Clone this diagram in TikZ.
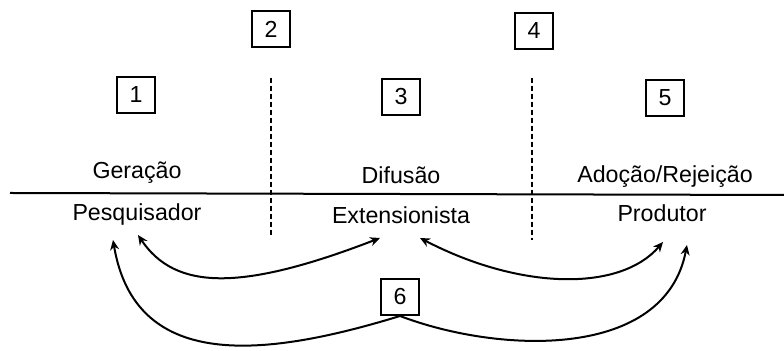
\documentclass[tikz,border=0pt]{standalone}
\usepackage{fontspec}
\setmainfont{Liberation Sans}
\usetikzlibrary{positioning}
\usetikzlibrary{arrows.meta}

\begin{document}
\begin{tikzpicture}[x=0.5pt,y=-0.5pt,>={Stealth[length=5pt,width=4.5pt]},
	every node/.style={font=\fontsize{11.6}{14}\selectfont,inner sep=1.5pt},
	num box/.style={draw,line width=1pt,minimum width=19pt,minimum height=18pt},
	stage/.style={},
	actor/.style={},
	link/.style={line width=1pt},
	sep line/.style={line width=0.8pt,dash pattern=on 2.5pt off 1.5pt}]
	
	\useasboundingbox (0,0) rectangle (784,351);
	
	% numbered boxes
	\node[num box] (n1) at (136,95) {1};
	\node[num box] (n2) at (271,29) {2};
	\node[num box] (n3) at (401,97) {3};
	\node[num box] (n4) at (534,31) {4};
	\node[num box] (n5) at (665,98) {5};
	\node[num box] (n6) at (400,297) {6};
	
	% stages and actors
	\node[stage] (gera) at (137,173) {Geração};
	\node[stage] (difu) at (401,175) {Difusão};
	\node[stage] (adoc) at (665,177) {Adoção/Rejeição};
	\node[actor] (pesq) at (137,215) {Pesquisador};
	\node[actor] (ext) at (401,215) {Extensionista};
	\node[actor] (prod) at (662,213) {Produtor};
	
	\coordinate (lineL) at (10,193);
	\coordinate (lineR) at (784,195);
	\coordinate (sepA1) at (271,78);
	\coordinate (sepA2) at (271,238);
	\coordinate (sepB1) at (532,78);
	\coordinate (sepB2) at (532,240);
	
	\draw[line width=1pt] (lineL) -- (lineR);
	\draw[sep line] (sepA1) -- (sepA2);
	\draw[sep line] (sepB1) -- (sepB2);
	
	% exchanges between actors
	\draw[link,<->] ([shift={(1,20)}]pesq.center)
		.. controls +(37,55) and +(-140,54) .. ([shift={(-21,23)}]ext.center);
	\draw[link,<->] ([shift={(19,23)}]ext.center)
		.. controls +(100,52) and +(-43,50) .. ([shift={(1,29)}]prod.center);
	\draw[link,->] (n6.south)
		.. controls +(-140,43) and +(22,130) .. ([shift={(-24,25)}]pesq.center);
	\draw[link,->] (n6.south)
		.. controls +(100,38) and +(-22,115) .. ([shift={(25,32)}]prod.center);
\end{tikzpicture}
\end{document}
